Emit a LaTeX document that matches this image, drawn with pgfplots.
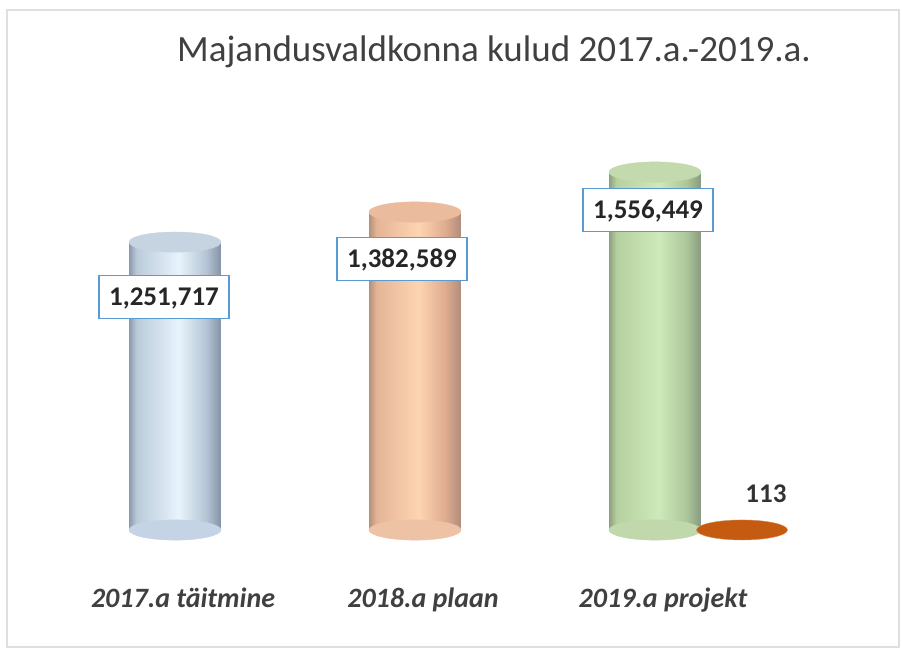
\documentclass[border=0pt]{standalone}
\usepackage{pgfplots}
\pgfplotsset{compat=1.18}
\usepackage{fontspec}
\setmainfont{Carlito}
\definecolor{titlec}{HTML}{404040}
\definecolor{boxc}{HTML}{5B9BD5}
\definecolor{orng}{HTML}{C55A11}
% blue-grey cylinder
\definecolor{aA}{HTML}{8A9AAA}\definecolor{aB}{HTML}{BACADA}\definecolor{aC}{HTML}{E8F4FC}\definecolor{aD}{HTML}{B4C4D4}\definecolor{aE}{HTML}{8494A4}
\definecolor{aCap}{HTML}{C6D4E2}\definecolor{aBot}{HTML}{C4D4E4}
% peach cylinder
\definecolor{bA}{HTML}{B4917A}\definecolor{bB}{HTML}{E4B496}\definecolor{bC}{HTML}{FDD5B3}\definecolor{bD}{HTML}{DDAA8E}\definecolor{bE}{HTML}{B08C7C}
\definecolor{bCap}{HTML}{EABB9C}\definecolor{bBot}{HTML}{EEC2A4}
% green cylinder
\definecolor{cA}{HTML}{8CA07E}\definecolor{cB}{HTML}{B6D09F}\definecolor{cC}{HTML}{CEE9BA}\definecolor{cD}{HTML}{ADC69A}\definecolor{cE}{HTML}{889A7E}
\definecolor{cCap}{HTML}{C2DAAE}\definecolor{cBot}{HTML}{C0D8AC}
\pgfdeclarehorizontalshading{cylA}{100bp}{color(0bp)=(aA); color(25bp)=(aA); color(29bp)=(aB); color(52bp)=(aC); color(67bp)=(aD); color(75bp)=(aE); color(100bp)=(aE)}
\pgfdeclarehorizontalshading{cylB}{100bp}{color(0bp)=(bA); color(25bp)=(bA); color(29bp)=(bB); color(52bp)=(bC); color(67bp)=(bD); color(75bp)=(bE); color(100bp)=(bE)}
\pgfdeclarehorizontalshading{cylC}{100bp}{color(0bp)=(cA); color(25bp)=(cA); color(29bp)=(cB); color(52bp)=(cC); color(67bp)=(cD); color(75bp)=(cE); color(100bp)=(cE)}
\begin{document}
\begin{tikzpicture}
\path (0,0) rectangle (902bp,653bp);
\draw[gray!25, line width=1.5bp] (7bp,6bp) rectangle (899bp,643bp);
\node[anchor=base, text=titlec, font=\fontsize{37bp}{40bp}\selectfont] at (494bp,591bp) {Majandusvaldkonna kulud 2017.a.-2019.a.};
\begin{axis}[
  at={(31bp,123bp)}, anchor=south west,
  scale only axis, width=768bp, height=440bp,
  xmin=-0.6, xmax=2.6, ymin=0, ymax=1913043,
  clip=false,
  axis line style={draw=none}, major tick length=0pt,
  ytick=\empty, yticklabels={},
  xtick={0,1,2},
  xticklabels={2017.a täitmine, 2018.a plaan, 2019.a projekt},
  xticklabel style={anchor=base, yshift=-77bp, xshift=8bp, text=titlec,
    font=\fontsize{28bp}{30bp}\selectfont\bfseries\itshape},
  every node near coord/.append style={
    font=\fontsize{27bp}{29bp}\selectfont\bfseries, text=black!85,
    /pgf/number format/fixed, /pgf/number format/precision=0,
    /pgf/number format/1000 sep={,}, /pgf/number format/assume math mode=true,
    anchor=center, draw=boxc, line width=1.3bp, fill=white,
    inner xsep=10bp, inner ysep=12bp, text height=18bp, text depth=1bp},
]
% bottom ellipses
\addplot[only marks, color=aBot, mark=*, mark size=46bp, mark options={yscale=0.22, fill=aBot, draw=aBot}] coordinates {(0,0)};
\addplot[only marks, color=bBot, mark=*, mark size=46bp, mark options={yscale=0.22, fill=bBot, draw=bBot}] coordinates {(1,0)};
\addplot[only marks, color=cBot, mark=*, mark size=46bp, mark options={yscale=0.22, fill=cBot, draw=cBot}] coordinates {(2,0)};
% cylinder bodies
\addplot[ybar, bar width=0.383, bar shift=0pt, draw=none, shading=cylA] coordinates {(0,1251717)};
\addplot[ybar, bar width=0.383, bar shift=0pt, draw=none, shading=cylB] coordinates {(1,1382589)};
\addplot[ybar, bar width=0.383, bar shift=0pt, draw=none, shading=cylC] coordinates {(2,1556449)};
% top caps
\addplot[only marks, color=aCap, mark=*, mark size=46bp, mark options={yscale=0.22, fill=aCap, draw=aCap}] coordinates {(0,1251717)};
\addplot[only marks, color=bCap, mark=*, mark size=46bp, mark options={yscale=0.22, fill=bCap, draw=bCap}] coordinates {(1,1382589)};
\addplot[only marks, color=cCap, mark=*, mark size=46bp, mark options={yscale=0.22, fill=cCap, draw=cCap}] coordinates {(2,1556449)};
% value labels
\addplot[only marks, mark=none, nodes near coords,
  every node near coord/.append style={xshift=-11bp, yshift=-55bp}] coordinates {(0,1251717)};
\addplot[only marks, mark=none, nodes near coords,
  every node near coord/.append style={xshift=-13bp, yshift=-47bp}] coordinates {(1,1382589)};
\addplot[only marks, mark=none, nodes near coords,
  every node near coord/.append style={xshift=-7bp, yshift=-38bp}] coordinates {(2,1556449)};
% second series (113)
\addplot[only marks, color=orng, mark=*, mark size=45.5bp, mark options={yscale=0.22, fill=orng, draw=orng!70}, nodes near coords,
  every node near coord/.append style={draw=none, fill=none, xshift=24bp, yshift=36bp, text=black!80}] coordinates {(2.3625,113)};
\end{axis}
\end{tikzpicture}
\end{document}
